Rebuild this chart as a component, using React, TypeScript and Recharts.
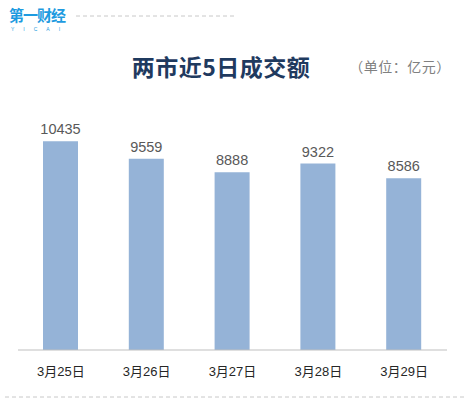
import { Bar, BarChart, LabelList, XAxis, YAxis } from "recharts";

const days = ["3月25日", "3月26日", "3月27日", "3月28日", "3月29日"];
const turnover = [10435, 9559, 8888, 9322, 8586];

const data = days.map((day, i) => ({ day, turnover: turnover[i] }));

const W = 470;
const H = 407;
const CJK = '"Noto Sans CJK SC", "Microsoft YaHei", sans-serif';

function Decor() {
  return (
    <svg
      width={W}
      height={H}
      style={{ position: "absolute", left: 0, top: 0, pointerEvents: "none" }}
    >
      <text x={9} y={21} fontFamily={CJK} fontWeight={700} fontSize={15} fill="#1e9be0" letterSpacing={-1}>
        第一财经
      </text>
      <text x={11} y={31} fontFamily="Liberation Sans, Arial" fontSize={5} fill="#1e9be0" letterSpacing={9}>
        YICAI
      </text>
      <line x1={76} y1={16} x2={235} y2={16} stroke="#c8c8c8" strokeDasharray="4 3" />
      <text x={221} y={76} textAnchor="middle" fontFamily={CJK} fontWeight={700} fontSize={23} fill="#1f3a5f" letterSpacing={0.5}>
        两市近5日成交额
      </text>
      <text x={400} y={72} textAnchor="middle" fontFamily={CJK} fontSize={14} fill="#808080" letterSpacing={0.5}>
        （单位：亿元）
      </text>
      <line x1={5} y1={397} x2={465} y2={397} stroke="#c8c8c8" strokeDasharray="4 3" />
    </svg>
  );
}

export default function App() {
  return (
    <div style={{ position: "absolute", left: 0, top: 0, width: W, height: H, background: "#fff" }}>
      <BarChart
        width={W}
        height={H}
        data={data}
        margin={{ top: 110, right: 23, left: 18, bottom: 17 }}
        barSize={35}
      >
        <XAxis
          dataKey="day"
          height={40}
          axisLine={{ stroke: "#bfbfbf" }}
          tickLine={false}
          tickMargin={11}
          tick={{ fontSize: 13, fill: "#262626", fontFamily: "Liberation Sans, Arial, " + CJK }}
        />
        <YAxis hide domain={[0, 12000]} />
        <Bar dataKey="turnover" fill="#95b3d7" isAnimationActive={false}>
          <LabelList
            dataKey="turnover"
            position="top"
            offset={7}
            fill="#595959"
            fontSize={14.5}
            fontFamily="Liberation Sans, Arial"
          />
        </Bar>
      </BarChart>
      <Decor />
    </div>
  );
}
